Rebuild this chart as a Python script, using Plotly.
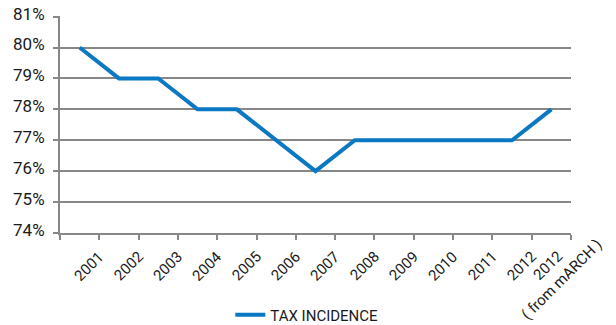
import plotly.graph_objects as go

categories = ["2001", "2002", "2003", "2004", "2005", "2006", "2007", "2008",
              "2009", "2010", "2011", "2012", "2012<br>( from mARCH )"]
tax_incidence = [0.80, 0.79, 0.79, 0.78, 0.78, 0.77, 0.76, 0.77,
                 0.77, 0.77, 0.77, 0.77, 0.78]
y_ticks = [0.74, 0.75, 0.76, 0.77, 0.78, 0.79, 0.80, 0.81]
series_name = "TAX INCIDENCE"

GRID = "#878787"
FONT = "Roboto"
TXT = "#1a1a1a"

fig = go.Figure()
fig.add_trace(go.Scatter(
    x=list(range(len(categories))), y=tax_incidence, mode="lines",
    name=series_name,
    line=dict(color="#0a78c2", width=4),
))

# rotated category labels (Excel-style, anchored at their upper-right)
for i, lab in enumerate(categories):
    n = lab.count("<br>") + 1
    fig.add_annotation(
        x=i, y=0, xref="x", yref="paper", text=lab, showarrow=False,
        textangle=-45, xanchor="right", yanchor="top", align="center",
        xshift=31 + 26 * (n - 1), yshift=-12 + 26 * (n - 1),
        font=dict(family=FONT, size=15, color=TXT),
    )

fig.update_layout(
    width=616, height=325,
    margin=dict(l=60, r=45, t=16, b=92, autoexpand=False),
    plot_bgcolor="white", paper_bgcolor="white",
    font=dict(family=FONT, size=15, color=TXT),
    showlegend=True,
    legend=dict(orientation="h", x=0.483, xanchor="center", y=-0.378,
                yanchor="middle", font=dict(family=FONT, size=15, color=TXT)),
)
fig.update_xaxes(
    range=[-0.5, len(categories) - 0.5],
    showticklabels=False,
    showgrid=False, showline=True, linecolor=GRID, linewidth=2,
    ticks="",
    minor=dict(tickmode="linear", tick0=-0.5, dtick=1, ticks="outside",
               ticklen=5, tickcolor=GRID, tickwidth=2),
    zeroline=False, automargin=False,
)
fig.update_yaxes(
    range=[0.74, 0.8102], tickvals=y_ticks, tickformat=".0%",
    showgrid=True, gridcolor=GRID, gridwidth=2,
    showline=True, linecolor=GRID, linewidth=2,
    ticks="outside", ticklen=5, tickcolor=GRID, tickwidth=2,
    zeroline=False, tickfont=dict(family=FONT, size=17, color=TXT),
    ticklabelstandoff=5, ticklabelshift=-3, ticklabeloverflow="allow",
    automargin=False,
)

fig.write_html("out.html", config={"displayModeBar": False},
               post_script="document.body.style.margin='0px';")
